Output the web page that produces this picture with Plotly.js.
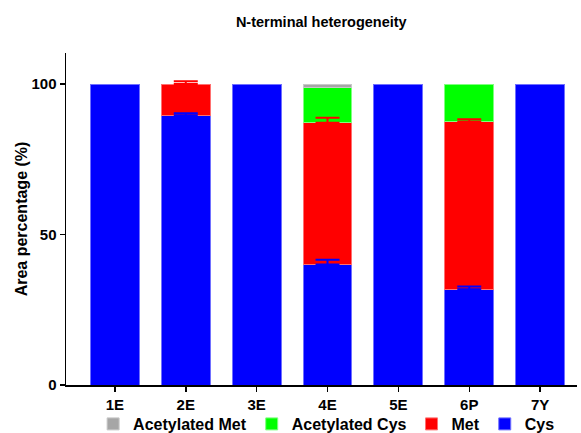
<!DOCTYPE html>
<html>
<head>
<meta charset="utf-8">
<script src="https://cdn.plot.ly/plotly-3.0.1.min.js"></script>
<style>html,body{margin:0;padding:0;background:#fff;overflow:hidden;}#chart{width:581px;height:441px;}</style>
</head>
<body>
<div id="chart"></div>
<script>
var categories = ["1E", "2E", "3E", "4E", "5E", "6P", "7Y"];
var cysValues = [100, 89.5, 100, 40, 100, 31.8, 100];
var cysErrors = [0, 0.8, 0, 1.6, 0, 0.9, 0];
var metValues = [0, 10.5, 0, 47.1, 0, 55.7, 0];
var metErrors = [0, 0.9, 0, 1.7, 0, 0.8, 0];
var acCysValues = [0, 0, 0, 11.8, 0, 12.5, 0];
var acMetValues = [0, 0, 0, 1.1, 0, 0, 0];
var yTicks = [0, 50, 100];

var font = "Liberation Sans, Arial, sans-serif";
function nz(v) { return v === 0 ? null : v; }
function bar(name, vals, color, edge) {
  return {
    type: "bar", name: name, x: categories, y: vals.map(nz),
    marker: {color: color, line: {width: 1, color: edge}}
  };
}
// upward-only error bars drawn above all bars, at the top of each segment
function errTrace(tops, errs, color) {
  var xs = [], ys = [], es = [];
  for (var i = 0; i < categories.length; i++) {
    if (errs[i] > 0) { xs.push(categories[i]); ys.push(tops[i]); es.push(errs[i]); }
  }
  return {
    type: "scatter", mode: "markers", x: xs, y: ys, showlegend: false, hoverinfo: "skip",
    marker: {size: 1, opacity: 0},
    error_y: {type: "data", symmetric: false, array: es, arrayminus: es.map(function () { return 0; }),
      color: color, thickness: 2, width: 12}
  };
}
var metTops = cysValues.map(function (v, i) { return v + metValues[i]; });
var data = [
  bar("Cys", cysValues, "#0000FF", "#7070FF"),
  bar("Met", metValues, "#FF0000", "#FF7070"),
  bar("Acetylated Cys", acCysValues, "#00FF00", "#80FF80"),
  bar("Acetylated Met", acMetValues, "#A6A6A6", "#C8C8C8"),
  errTrace(cysValues, cysErrors, "#0000FF"),
  errTrace(metTops, metErrors, "#FF0000")
];
var layout = {
  width: 581, height: 441,
  margin: {l: 66, r: 4, t: 53, b: 56},
  barmode: "stack", bargap: 0.31,
  paper_bgcolor: "#fff", plot_bgcolor: "#fff",
  font: {family: font, size: 13, color: "#000"},
  title: {text: "<b>N-terminal heterogeneity</b>", x: 0.553, xanchor: "center", yref: "container", y: 0.95, yanchor: "middle",
    font: {family: font, size: 14.5, color: "#000"}},
  xaxis: {type: "category", range: [-0.69, 6.52], showline: true, linecolor: "#000", linewidth: 1.5,
    ticks: "outside", ticklen: 5, tickwidth: 1.5, tickcolor: "#000", showgrid: false, zeroline: false,
    tickfont: {family: font, size: 15, color: "#000", weight: "bold"}},
  yaxis: {range: [0, 110.3], showline: true, linecolor: "#000", linewidth: 1.5,
    ticks: "outside", ticklen: 5, tickwidth: 1.5, tickcolor: "#000", showgrid: false, zeroline: false,
    tickvals: yTicks, ticktext: yTicks.map(String),
    tickfont: {family: font, size: 15, color: "#000", weight: "bold"},
    title: {text: "<b>Area percentage (%)</b>", standoff: 0, font: {family: font, size: 16, color: "#000"}}},
  legend: {orientation: "h", traceorder: "reversed", x: 0.51, xanchor: "center",
    yref: "container", y: 0, yanchor: "bottom", bgcolor: "rgba(0,0,0,0)",
    font: {family: font, size: 16, color: "#000", weight: "bold"}, itemwidth: 30},
  showlegend: true
};
Plotly.newPlot("chart", data, layout, {displayModeBar: false, staticPlot: true});
</script>
</body>
</html>
